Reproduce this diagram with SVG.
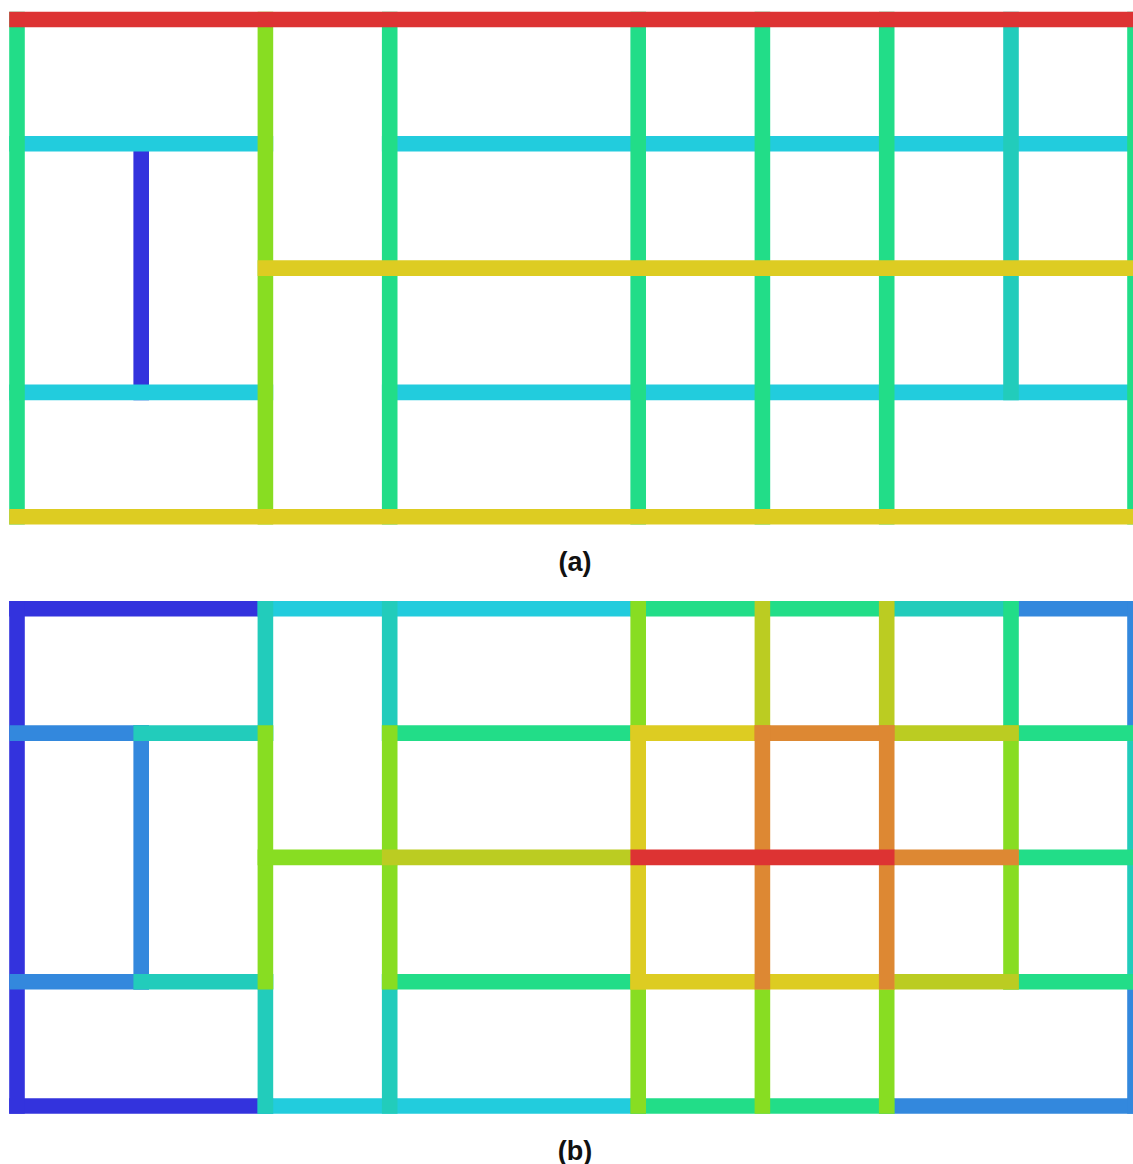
<svg xmlns="http://www.w3.org/2000/svg" width="1133" height="1164" viewBox="0 0 1133 1164">
<style>
line{stroke-width:15.6;stroke-linecap:square;fill:none}
.blue{stroke:#3333dd}.mblue{stroke:#3388dd}.cyan{stroke:#22ccdd}.teal{stroke:#22ccbb}
.green{stroke:#22dd88}.lgreen{stroke:#88dd22}.ygreen{stroke:#bbcc22}.yellow{stroke:#ddcc22}
.orange{stroke:#dd8833}.red{stroke:#dd3333}
.lbl{font-family:"Liberation Sans",Arial,sans-serif;font-weight:bold;font-size:27px;fill:#111;text-anchor:middle}
</style>
<rect width="1133" height="1164" fill="#ffffff"/>
<g id="panel-a">
<line class="blue" x1="141.2" y1="143.8" x2="141.2" y2="392.4"/>
<line class="cyan" x1="17" y1="143.8" x2="265.4" y2="143.8"/>
<line class="cyan" x1="389.7" y1="143.8" x2="1135" y2="143.8"/>
<line class="cyan" x1="17" y1="392.4" x2="265.4" y2="392.4"/>
<line class="cyan" x1="389.7" y1="392.4" x2="1135" y2="392.4"/>
<line class="teal" x1="1011" y1="19.5" x2="1011" y2="392.4"/>
<line class="green" x1="17" y1="19.5" x2="17" y2="516.7"/>
<line class="green" x1="389.7" y1="19.5" x2="389.7" y2="516.7"/>
<line class="green" x1="638.2" y1="19.5" x2="638.2" y2="516.7"/>
<line class="green" x1="762.4" y1="19.5" x2="762.4" y2="516.7"/>
<line class="green" x1="886.7" y1="19.5" x2="886.7" y2="516.7"/>
<line class="green" x1="1135" y1="19.5" x2="1135" y2="516.7"/>
<line class="lgreen" x1="265.4" y1="19.5" x2="265.4" y2="516.7"/>
<line class="yellow" x1="265.4" y1="268.1" x2="1135" y2="268.1"/>
<line class="yellow" x1="17" y1="516.7" x2="1135" y2="516.7"/>
<line class="red" x1="17" y1="19.5" x2="1135" y2="19.5"/>
</g>
<text class="lbl" x="575" y="571">(a)</text>
<g id="panel-b">
<line class="blue" x1="17" y1="608.8" x2="265.4" y2="608.8"/>
<line class="blue" x1="17" y1="1106" x2="265.4" y2="1106"/>
<line class="blue" x1="17" y1="608.8" x2="17" y2="1106"/>
<line class="mblue" x1="17" y1="733.1" x2="141.2" y2="733.1"/>
<line class="mblue" x1="17" y1="981.7" x2="141.2" y2="981.7"/>
<line class="mblue" x1="141.2" y1="733.1" x2="141.2" y2="981.7"/>
<line class="mblue" x1="1011" y1="608.8" x2="1135" y2="608.8"/>
<line class="mblue" x1="886.7" y1="1106" x2="1135" y2="1106"/>
<line class="mblue" x1="1135" y1="608.8" x2="1135" y2="733.1"/>
<line class="mblue" x1="1135" y1="981.7" x2="1135" y2="1106"/>
<line class="cyan" x1="265.4" y1="608.8" x2="638.2" y2="608.8"/>
<line class="cyan" x1="265.4" y1="1106" x2="638.2" y2="1106"/>
<line class="teal" x1="141.2" y1="733.1" x2="265.4" y2="733.1"/>
<line class="teal" x1="141.2" y1="981.7" x2="265.4" y2="981.7"/>
<line class="teal" x1="886.7" y1="608.8" x2="1011" y2="608.8"/>
<line class="teal" x1="265.4" y1="608.8" x2="265.4" y2="733.1"/>
<line class="teal" x1="265.4" y1="981.7" x2="265.4" y2="1106"/>
<line class="teal" x1="389.7" y1="608.8" x2="389.7" y2="733.1"/>
<line class="teal" x1="389.7" y1="981.7" x2="389.7" y2="1106"/>
<line class="teal" x1="1135" y1="733.1" x2="1135" y2="981.7"/>
<line class="green" x1="638.2" y1="608.8" x2="886.7" y2="608.8"/>
<line class="green" x1="638.2" y1="1106" x2="886.7" y2="1106"/>
<line class="green" x1="389.7" y1="733.1" x2="638.2" y2="733.1"/>
<line class="green" x1="389.7" y1="981.7" x2="638.2" y2="981.7"/>
<line class="green" x1="1011" y1="733.1" x2="1135" y2="733.1"/>
<line class="green" x1="1011" y1="857.4" x2="1135" y2="857.4"/>
<line class="green" x1="1011" y1="981.7" x2="1135" y2="981.7"/>
<line class="green" x1="1011" y1="608.8" x2="1011" y2="733.1"/>
<line class="lgreen" x1="265.4" y1="733.1" x2="265.4" y2="981.7"/>
<line class="lgreen" x1="389.7" y1="733.1" x2="389.7" y2="981.7"/>
<line class="lgreen" x1="265.4" y1="857.4" x2="389.7" y2="857.4"/>
<line class="lgreen" x1="638.2" y1="608.8" x2="638.2" y2="733.1"/>
<line class="lgreen" x1="638.2" y1="981.7" x2="638.2" y2="1106"/>
<line class="lgreen" x1="762.4" y1="981.7" x2="762.4" y2="1106"/>
<line class="lgreen" x1="886.7" y1="981.7" x2="886.7" y2="1106"/>
<line class="lgreen" x1="1011" y1="733.1" x2="1011" y2="981.7"/>
<line class="ygreen" x1="389.7" y1="857.4" x2="638.2" y2="857.4"/>
<line class="ygreen" x1="762.4" y1="608.8" x2="762.4" y2="733.1"/>
<line class="ygreen" x1="886.7" y1="608.8" x2="886.7" y2="733.1"/>
<line class="ygreen" x1="886.7" y1="733.1" x2="1011" y2="733.1"/>
<line class="ygreen" x1="886.7" y1="981.7" x2="1011" y2="981.7"/>
<line class="yellow" x1="638.2" y1="733.1" x2="762.4" y2="733.1"/>
<line class="yellow" x1="638.2" y1="981.7" x2="886.7" y2="981.7"/>
<line class="yellow" x1="638.2" y1="733.1" x2="638.2" y2="981.7"/>
<line class="orange" x1="762.4" y1="733.1" x2="886.7" y2="733.1"/>
<line class="orange" x1="762.4" y1="733.1" x2="762.4" y2="981.7"/>
<line class="orange" x1="886.7" y1="733.1" x2="886.7" y2="981.7"/>
<line class="orange" x1="886.7" y1="857.4" x2="1011" y2="857.4"/>
<line class="red" x1="638.2" y1="857.4" x2="886.7" y2="857.4"/>
</g>
<text class="lbl" x="575" y="1160">(b)</text>
</svg>
